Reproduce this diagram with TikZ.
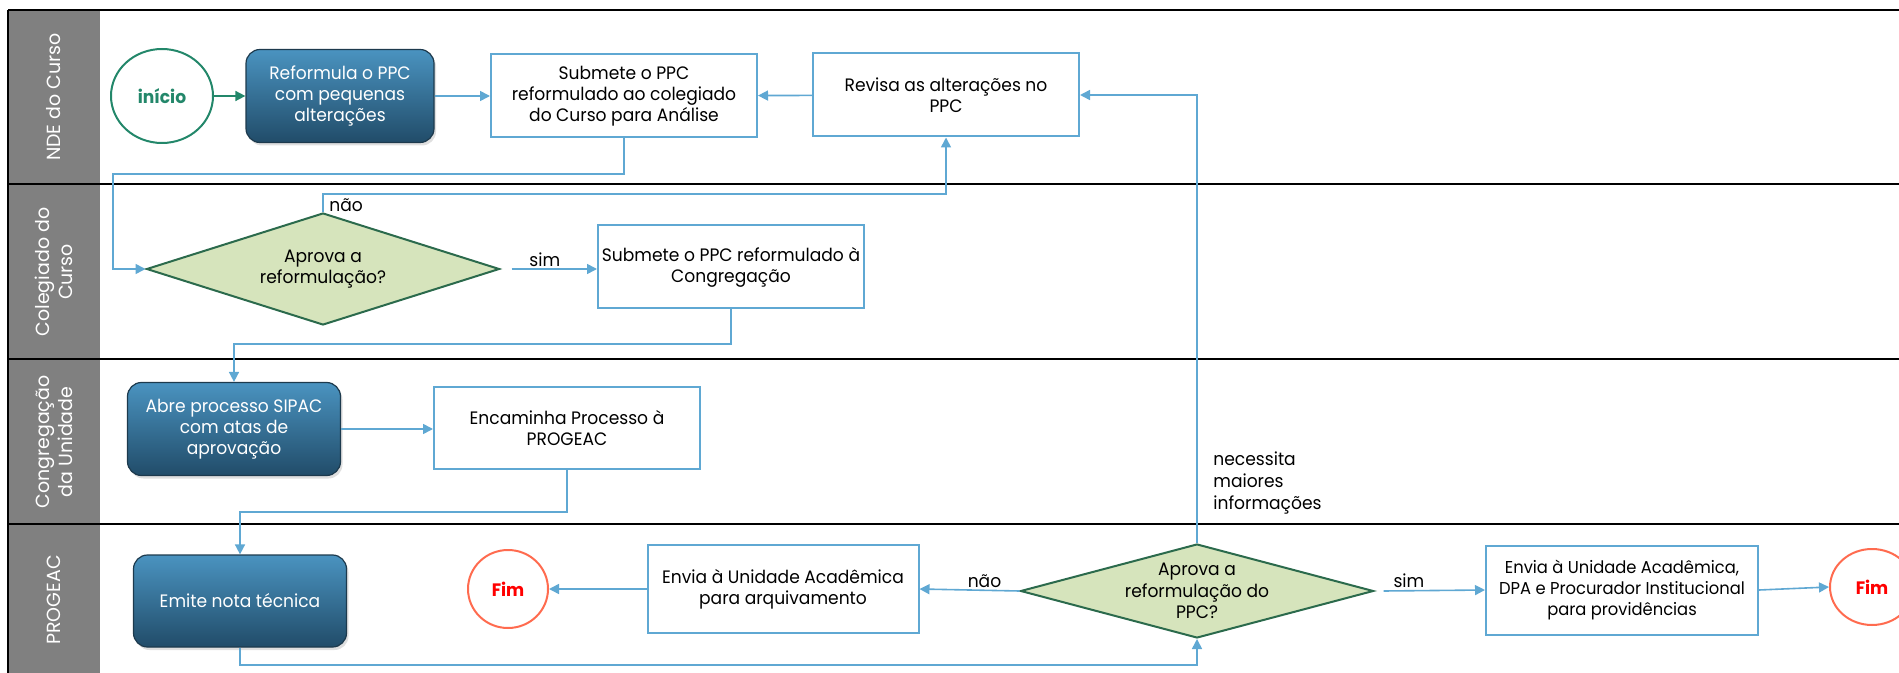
\documentclass[tikz,border=0pt]{standalone}
\usepackage{fontspec}
\setmainfont{Poppins}[FakeStretch=0.95]
\newfontfamily\lanefont{Poppins}
\usetikzlibrary{arrows.meta,shapes.geometric,shadows}

\definecolor{lanegray}{HTML}{808080}
\definecolor{flowblue}{HTML}{5FA8D3}
\definecolor{dktop}{HTML}{4A93C0}
\definecolor{dkmid}{HTML}{2B6D92}
\definecolor{dkbot}{HTML}{214C69}
\definecolor{dkline}{HTML}{1D3A4D}
\definecolor{dgreen}{HTML}{2B6A4C}
\definecolor{dfill}{HTML}{D6E4BC}
\definecolor{startgreen}{HTML}{23876A}
\definecolor{stopred}{HTML}{FF6B4F}

\begin{document}
\begin{tikzpicture}[
  x=0.5pt,
  y=-0.5pt,
  >={Triangle[length=5pt,width=5pt]},
  every node/.style={font=\fontsize{9}{10.6}\selectfont,inner sep=1pt},
  laneline/.style={line width=1pt,black},
  lanelbl/.style={rotate=90,text=white,align=center,font=\lanefont\fontsize{9.5}{11.5}\selectfont},
  task/.style={draw=flowblue,line width=1pt,fill=white,align=center,minimum width=133pt,minimum height=41.5pt},
  subtask/.style={draw=dkline,line width=0.6pt,rounded corners=7pt,top color=dktop,middle color=dkmid,bottom color=dkbot,
    text=white,align=center,minimum width=106.5pt,minimum height=46.5pt,
    drop shadow={opacity=0.25,shadow xshift=1pt,shadow yshift=-1.5pt}},
  decision/.style={diamond,draw=dgreen,fill=dfill,line width=1pt,inner sep=0pt,minimum width=176.5pt},
  dtext/.style={align=center},
  startnode/.style={ellipse,draw=startgreen,line width=1pt,text=startgreen,font=\bfseries\fontsize{9}{11}\selectfont,minimum width=51pt,minimum height=47pt},
  stopnode/.style={ellipse,draw=stopred,line width=1pt,text=red,font=\bfseries\fontsize{9}{11}\selectfont,minimum width=40pt,minimum height=39pt},
  flow/.style={->,draw=flowblue,line width=0.8pt},
  lbl/.style={font=\fontsize{9}{11}\selectfont}
]
\useasboundingbox (0,0) rectangle (1899,673);

% Lanes
\fill[lanegray] (8,10) rectangle (100,673);
\draw[laneline] (8,10) -- (1899,10);
\draw[laneline] (8,184) -- (1899,184);
\draw[laneline] (8,359) -- (1899,359);
\draw[laneline] (8,524) -- (1899,524);
\draw[laneline] (8,10) -- (8,673);

\node[lanelbl] (lnde) at (54,97) {NDE do Curso};
\node[lanelbl] (lcol) at (54,272) {Colegiado do\\Curso};
\node[lanelbl] (lcon) at (54,442) {Congregação\\da Unidade};
\node[lanelbl] (lpro) at (54,600) {PROGEAC};

% NDE do Curso
\node[startnode] (inicio) at (162,96) {início};
\node[subtask,minimum width=94pt] (reformula) at (340,96) {Reformula o PPC\\com pequenas\\alterações};
\node[task] (submete) at (624,96) {Submete o PPC\\reformulado ao colegiado\\do Curso para Análise};
\node[task] (revisa) at (946,95) {Revisa as alterações no\\PPC};

% Colegiado do Curso
\node[decision,minimum height=56pt] (aprova1) at (323,269) {};
\node[dtext] (aprova1txt) at (aprova1) {Aprova a\\reformulação?};
\node[task] (congreg) at (731,267) {Submete o PPC reformulado à\\Congregação};

% Congregacao da Unidade
\node[subtask] (abre) at (234,429) {Abre processo SIPAC\\com atas de\\aprovação};
\node[task,minimum height=41pt] (encaminha) at (567,428) {Encaminha Processo à\\PROGEAC};

% PROGEAC
\node[subtask,minimum height=46pt] (emite) at (240,601) {Emite nota técnica};
\node[stopnode] (fim1) at (508,589) {Fim};
\node[task,minimum width=135.5pt,minimum height=44pt] (arquivo) at (783,589) {Envia à Unidade Acadêmica\\para arquivamento};
\node[decision,minimum height=47pt] (aprova2) at (1197,591) {};
\node[dtext] (aprova2txt) at (aprova2) {Aprova a\\reformulação do\\PPC?};
\node[task,minimum width=136pt,minimum height=44.5pt,font=\fontsize{8.6}{10.6}\selectfont] (envia) at (1622,590) {Envia à Unidade Acadêmica,\\DPA e Procurador Institucional\\para providências};
\node[stopnode,minimum width=42pt,minimum height=38pt] (fim2) at (1872,587) {Fim};

% Connectors
\draw[->,draw=startgreen,line width=0.8pt] (inicio) -- (reformula);
\draw[flow] (reformula) -- (submete);
\draw[flow] (revisa) -- (submete);
\draw[flow] (submete.south) |- (113,174) |- (aprova1.west);
\draw[flow] (aprova1.north) |- (946,194) -- (revisa.south);
\node[lbl,anchor=south west] (nao1) at (327,214) {não};
\draw[flow] ([xshift=5.5pt]aprova1.east) -- (aprova1.east -| congreg.west) node[lbl,pos=0.39,above] (sim1) {sim};
\draw[flow] (congreg.south) |- (234,344) -- (abre.north);
\draw[flow] (abre.east) -- (abre.east -| encaminha.west);
\draw[flow] (encaminha.south) |- (240,512) -- (emite.north);
\draw[flow] (emite.south) |- (1197,665) -- (aprova2.south);
\draw[flow] (aprova2.north) |- (revisa.east);
\node[lbl,anchor=west,align=left] (necessita) at (1211,483) {necessita\\maiores\\informações};
\draw[flow] (aprova2.west) -- (arquivo.east) node[lbl,pos=0.35,above] (nao2) {não};
\draw[flow] (arquivo.west) -- (fim1.east);
\draw[flow] ([xshift=4.5pt]aprova2.east) -- (envia.west) node[lbl,pos=0.25,above] (sim2) {sim};
\draw[flow] (envia.east) -- (fim2.west);
\end{tikzpicture}
\end{document}
